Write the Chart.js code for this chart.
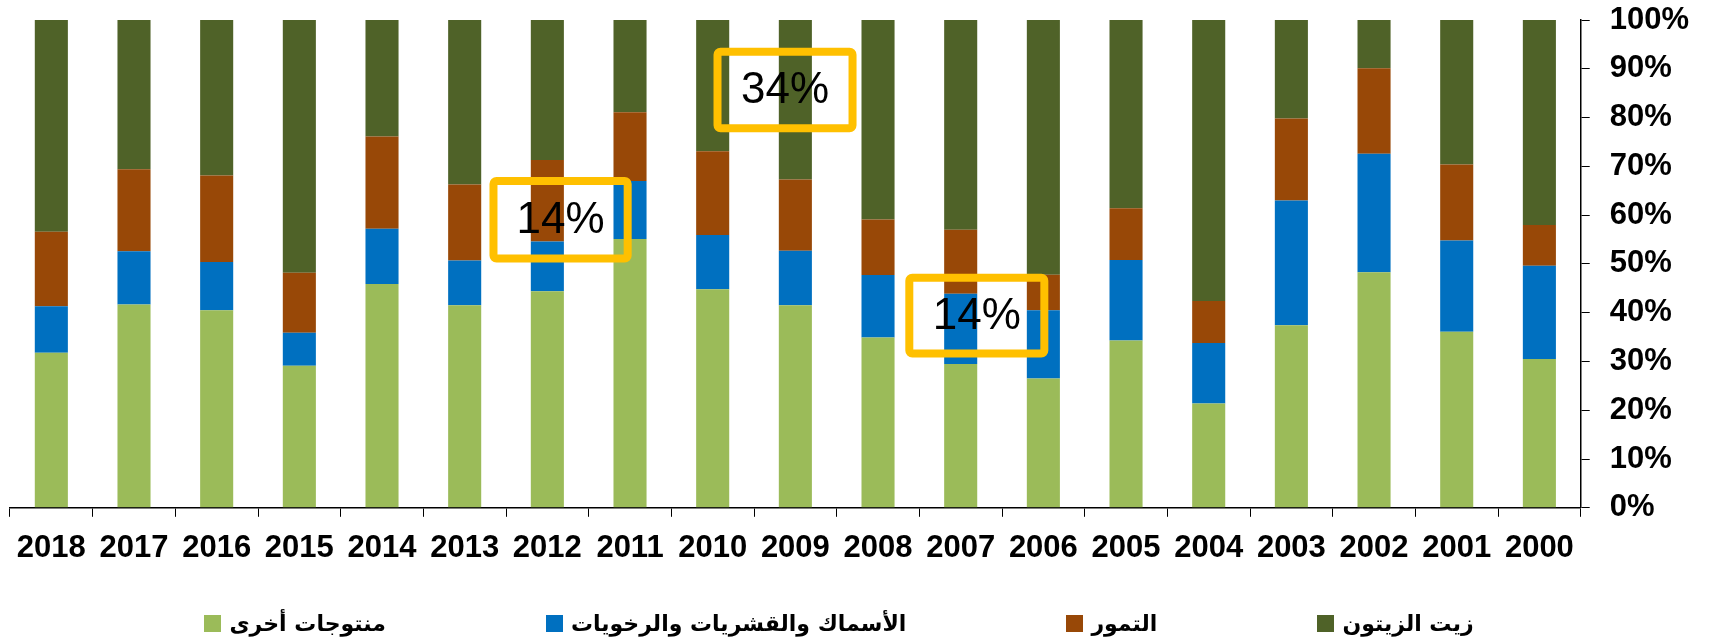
<!DOCTYPE html>
<html>
<head>
<meta charset="utf-8">
<script src="https://cdn.jsdelivr.net/npm/chart.js@4/dist/chart.umd.min.js"></script>
<style>
html, body { margin: 0; padding: 0; background: #fff; }
#wrap { position: relative; width: 1716px; height: 641px; }
#legend {
  position: absolute; left: 0; top: 611px; width: 1678px;
  display: flex; justify-content: center; gap: 160px;
  font: bold 22px "DejaVu Sans", "Liberation Sans", sans-serif; color: #000;
}
#legend .item { display: flex; align-items: center; }
#legend .box { width: 17px; height: 17px; margin-right: 8px; }
</style>
</head>
<body>
<div id="wrap">
  <canvas id="chart" width="1716" height="641"></canvas>
  <div id="legend"></div>
</div>
<script>
// years, drawn right to left
const years = ['2000','2001','2002','2003','2004','2005','2006','2007','2008','2009',
               '2010','2011','2012','2013','2014','2015','2016','2017','2018'];

// shares in %
const otherProducts = [30.5, 36.1, 48.3, 37.4, 21.4, 34.3, 26.5, 29.5, 34.9, 41.5, 44.8, 55.1, 44.4, 41.5, 45.9, 29.1, 40.5, 41.7, 31.8];
const fishSeafood   = [19.1, 18.7, 24.3, 25.6, 12.4, 16.5, 14.0, 14.4, 12.8, 11.2, 11.1, 11.9, 10.2, 9.2, 11.3, 6.8, 9.9, 10.9, 9.5];
const dates         = [8.4, 15.6, 17.5, 16.8, 8.6, 10.6, 7.3, 13.1, 11.4, 14.6, 17.2, 14.1, 16.7, 15.6, 18.9, 12.3, 17.7, 16.8, 15.3];
const oliveOil      = [42.0, 29.6, 9.9, 20.2, 57.6, 38.6, 52.2, 43.0, 40.9, 32.7, 26.9, 18.9, 28.7, 33.7, 23.9, 51.8, 31.9, 30.6, 43.4];

const seriesNames = ['منتوجات أخرى', 'الأسماك والقشريات والرخويات', 'التمور', 'زيت الزيتون'];
const seriesColors = ['#9BBB59', '#0070C0', '#984807', '#4F6228'];

const yTicks = [0, 10, 20, 30, 40, 50, 60, 70, 80, 90, 100];

// highlighted boxes: x in category index units, y in %
const callouts = [
  { text: '34%', x0: 9.99, x1: 8.26, y0: 94.3, y1: 77.0 },
  { text: '14%', x0: 12.70, x1: 10.98, y0: 67.8, y1: 50.3 },
  { text: '14%', x0: 7.67, x1: 5.94, y0: 48.0, y1: 30.8 }
];

const calloutPlugin = {
  id: 'callouts',
  afterDatasetsDraw(chart) {
    const ctx = chart.ctx, xs = chart.scales.x, ys = chart.scales.y;
    ctx.save();
    callouts.forEach(c => {
      const a = xs.getPixelForValue(c.x0), b = xs.getPixelForValue(c.x1);
      const l = Math.min(a, b), r = Math.max(a, b);
      const t = ys.getPixelForValue(c.y0), btm = ys.getPixelForValue(c.y1);
      ctx.strokeStyle = '#FFC000';
      ctx.lineWidth = 8;
      ctx.lineJoin = 'round';
      ctx.beginPath();
      ctx.roundRect(l + 4, t + 4, r - l - 8, btm - t - 8, 3);
      ctx.stroke();
      ctx.fillStyle = '#000';
      ctx.font = '44px "Liberation Sans", Arial, sans-serif';
      ctx.textAlign = 'center';
      ctx.textBaseline = 'middle';
      ctx.fillText(c.text, (l + r) / 2, (t + btm) / 2 + 1);
    });
    ctx.restore();
  }
};

const tickFont = { family: '"Liberation Sans", Arial, sans-serif', size: 31, weight: 'bold' };

new Chart(document.getElementById('chart'), {
  type: 'bar',
  data: {
    labels: years,
    datasets: [otherProducts, fishSeafood, dates, oliveOil].map((d, i) => ({
      label: seriesNames[i],
      data: d,
      backgroundColor: seriesColors[i],
      borderWidth: 0,
      categoryPercentage: 0.4,
      barPercentage: 1
    }))
  },
  options: {
    responsive: false,
    animation: false,
    layout: { padding: { left: 10, right: 7, top: 0, bottom: 61 } },
    plugins: { legend: { display: false }, tooltip: { enabled: false } },
    scales: {
      x: {
        stacked: true,
        reverse: true,
        grid: { drawOnChartArea: false, drawTicks: true, tickLength: 9, color: '#000', offset: true },
        border: { color: '#000', width: 1.5 },
        ticks: { color: '#000', font: tickFont, padding: 13, maxRotation: 0, autoSkip: false }
      },
      y: {
        stacked: true,
        position: 'right',
        min: 0,
        max: 100,
        afterBuildTicks: s => { s.ticks = yTicks.map(v => ({ value: v })); },
        // tick padding is horizontal here, keep it out of the top gap
        afterFit: s => { s.paddingTop = 20; s.paddingBottom = 19; },
        grid: { drawOnChartArea: false, drawTicks: true, tickLength: 9, color: '#000' },
        border: { color: '#000', width: 1.5 },
        ticks: { color: '#000', font: tickFont, padding: 20, callback: v => v + '%' }
      }
    }
  },
  plugins: [calloutPlugin]
});

// legend under the chart
const legend = document.getElementById('legend');
seriesNames.forEach((name, i) => {
  const item = document.createElement('div');
  item.className = 'item';
  item.innerHTML = '<span class="box" style="background:' + seriesColors[i] + '"></span><span dir="rtl">' + name + '</span>';
  legend.appendChild(item);
});
</script>
</body>
</html>
